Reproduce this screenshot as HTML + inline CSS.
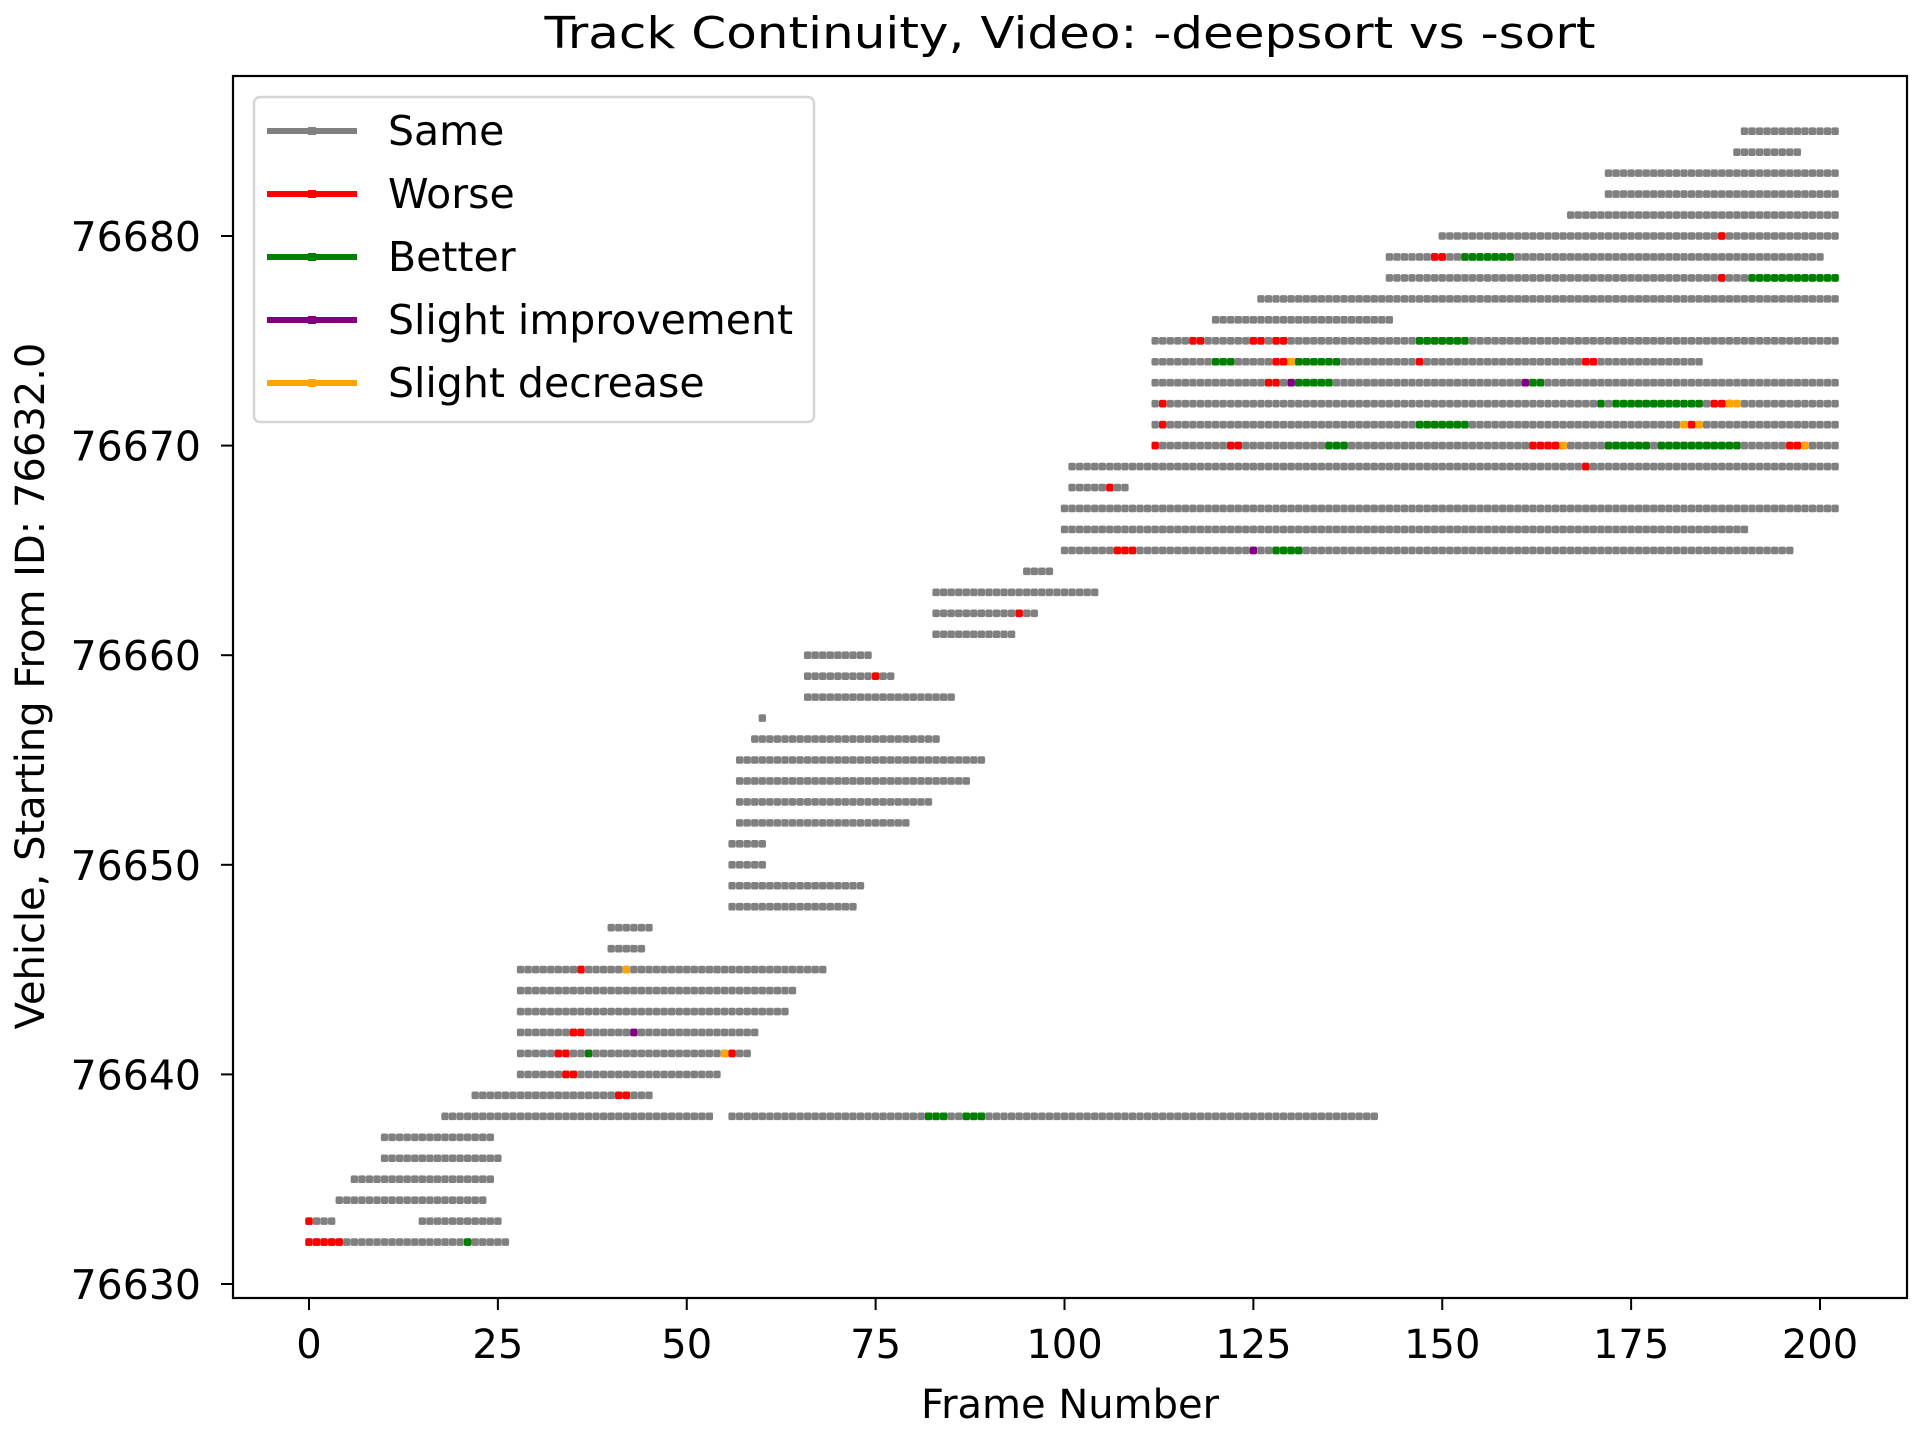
<!DOCTYPE html>
<html><head><meta charset="utf-8"><style>
html,body{margin:0;padding:0;background:#fff;}
svg{display:block;font-family:"DejaVu Sans","Liberation Sans",sans-serif;}
</style></head><body>
<svg id="chart" width="1920" height="1440" viewBox="0 0 1920 1440" xmlns="http://www.w3.org/2000/svg">
<rect width="1920" height="1440" fill="#fff"/>
<text x="1070" y="48" text-anchor="middle" font-size="44" textLength="1051" lengthAdjust="spacingAndGlyphs">Track Continuity, Video: -deepsort vs -sort</text>
<g id="marks"></g>
<g id="axes"></g>
<text x="1070" y="1418" text-anchor="middle" font-size="40">Frame Number</text>
<text transform="translate(44,686) rotate(-90)" text-anchor="middle" font-size="40">Vehicle, Starting From ID: 76632.0</text>
<g id="legend"></g>
</svg>
<script>
// ---- data ----
const xTicks = [0, 25, 50, 75, 100, 125, 150, 175, 200];
const yTicks = [76630, 76640, 76650, 76660, 76670, 76680];
const typeNames = ["Same", "Worse", "Better", "Slight improvement", "Slight decrease"];
const typeColors = ["#808080", "#ff0000", "#008000", "#800080", "#ffa500"];
// track segments: vehicle id, first frame, last frame
const segIds = [76632,76633,76633,76634,76635,76636,76637,76638,76638,76639,76640,76641,76642,76643,76644,76645,76646,76647,76648,76649,76650,76651,76652,76653,76654,76655,76656,76657,76658,76659,76660,76661,76662,76663,76664,76665,76666,76667,76668,76669,76670,76671,76672,76673,76674,76675,76676,76677,76678,76679,76680,76681,76682,76683,76684,76685];
const segStarts = [0,0,15,4,6,10,10,18,56,22,28,28,28,28,28,28,40,40,56,56,56,56,57,57,57,57,59,60,66,66,66,83,83,83,95,100,100,100,101,101,112,112,112,112,112,112,120,126,143,143,150,167,172,172,189,190];
const segEnds = [26,3,25,23,24,25,24,53,141,45,54,58,59,63,64,68,44,45,72,73,60,60,79,82,87,89,83,60,85,77,74,93,96,104,98,196,190,202,108,202,202,202,202,202,184,202,143,202,202,200,202,202,202,202,197,202];
// colored events: vehicle id, first frame, last frame, type index
const evIds = [76632,76632,76633,76638,76638,76639,76640,76641,76641,76641,76641,76642,76642,76645,76645,76659,76662,76665,76665,76665,76668,76669,
  76670,76670,76670,76670,76670,76670,76670,76670,76670,
  76671,76671,76671,76671,76671,
  76672,76672,76672,76672,76672,
  76673,76673,76673,76673,76673,
  76674,76674,76674,76674,76674,76674,76674,
  76675,76675,76675,76675,
  76678,76678,76679,76679,76680];
const evStarts = [0,21,0,82,87,41,34,33,37,55,56,35,43,36,42,75,94,107,125,128,106,169,
  112,122,135,162,166,172,179,196,198,
  113,147,182,183,184,
  113,171,173,186,188,
  127,130,131,161,162,
  120,128,130,131,136,147,169,
  117,125,128,147,
  187,191,149,153,187];
const evEnds = [4,21,0,84,89,42,35,34,37,55,56,36,43,36,42,75,94,109,125,131,106,169,
  112,123,137,165,166,177,189,197,198,
  113,153,182,183,184,
  113,171,184,188,189,
  128,130,135,161,163,
  122,129,130,135,136,147,170,
  118,126,129,153,
  187,202,150,159,187];
const evTypes = [1,2,1,2,2,1,1,1,2,4,1,1,3,1,4,1,1,1,3,2,1,1,
  1,1,2,1,4,2,2,1,4,
  1,2,4,1,4,
  1,2,2,1,4,
  1,3,2,3,2,
  2,1,4,2,2,1,1,
  1,1,1,2,
  1,2,1,2,1];

// ---- geometry ----
const L = 233, R = 1907, T = 76, B = 1298;
const xScale = f => 309 + f * (1820 - 309) / 200;
const yScale = v => 1284 - (v - 76630) * (1284 - 236) / 50;
const NS = "http://www.w3.org/2000/svg";
function mk(tag, attrs, parent) {
  const e = document.createElementNS(NS, tag);
  for (const k in attrs) e.setAttribute(k, attrs[k]);
  parent.appendChild(e);
  return e;
}
const marks = document.getElementById("marks");
const fw = (1820 - 309) / 200;
function frameDot(id, f, color, g) {
  const r = mk("rect", {x: xScale(f) - fw / 2 + 0.1, y: yScale(id) - 3.8, width: fw - 0.2, height: 7.6, rx: 1.8, fill: color}, g);
  
  
}
for (let i = 0; i < segIds.length; i++) {
  const g = mk("g", {}, marks);
  
  
  for (let f = segStarts[i]; f <= segEnds[i]; f++) frameDot(segIds[i], f, typeColors[0], g);
}
for (let i = 0; i < evIds.length; i++) {
  const g = mk("g", {}, marks);
  
  
  for (let f = evStarts[i]; f <= evEnds[i]; f++) frameDot(evIds[i], f, typeColors[evTypes[i]], g);
}

// ---- axes ----
const axes = document.getElementById("axes");
const frame = mk("rect", {x: L, y: T, width: R - L, height: B - T, fill: "none", stroke: "#000", "stroke-width": 2.2}, axes);


xTicks.forEach(t => {
  const x = xScale(t);
  const tk = mk("line", {x1: x, x2: x, y1: B, y2: B + 12, stroke: "#000", "stroke-width": 2}, axes);
  
  
  const lb = mk("text", {x: x, y: 1358, "text-anchor": "middle", "font-size": 40}, axes);
  lb.textContent = t;
  
  
});
yTicks.forEach(t => {
  const y = yScale(t);
  const tk = mk("line", {x1: L - 12, x2: L, y1: y, y2: y, stroke: "#000", "stroke-width": 2}, axes);
  
  
  const lb = mk("text", {x: 201, y: y + 15, "text-anchor": "end", "font-size": 41}, axes);
  lb.textContent = t;
  
  
});

// ---- legend ----
const leg = document.getElementById("legend");
const box = mk("rect", {x: 254, y: 97, width: 560, height: 325, rx: 6, fill: "#fff", stroke: "#d6d6d6", "stroke-width": 2.5}, leg);


typeNames.forEach((n, i) => {
  const y = 131 + i * 63;
  const g = mk("g", {}, leg);
  
  
  mk("line", {x1: 267, x2: 357, y1: y, y2: y, stroke: typeColors[i], "stroke-width": 6}, g);
  mk("rect", {x: 308, y: y - 4, width: 8, height: 8, fill: typeColors[i]}, g);
  const t = mk("text", {x: 388, y: y + 14, "font-size": 41}, g);
  t.textContent = n;
});
</script>
</body></html>
